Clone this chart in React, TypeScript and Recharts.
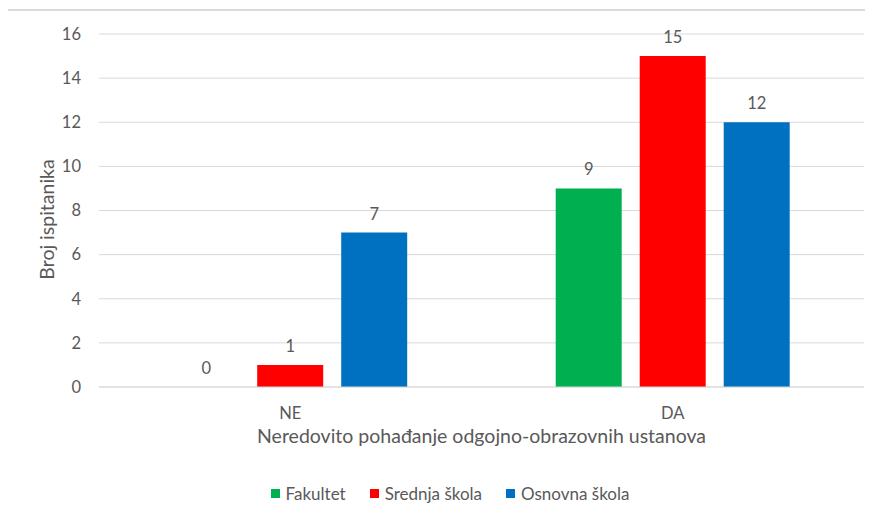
import { Bar, BarChart, CartesianGrid, LabelList, Legend, XAxis, YAxis } from 'recharts';

const categories = ['NE', 'DA'];
const fakultet = [0, 9];
const srednja = [1, 15];
const osnovna = [7, 12];
const yTicks = [0, 2, 4, 6, 8, 10, 12, 14, 16];

const series = [
  { key: 'fakultet', name: 'Fakultet', color: '#00B050' },
  { key: 'srednja', name: 'Srednja škola', color: '#FF0000' },
  { key: 'osnovna', name: 'Osnovna škola', color: '#0070C0' },
];

const data = categories.map((c, i) => ({
  name: c,
  fakultet: fakultet[i],
  srednja: srednja[i],
  osnovna: osnovna[i],
}));

const FONT = 'Lato, "Open Sans", sans-serif';
const TEXT = '#595959';

function LegendContent() {
  return (
    <div
      style={{
        display: 'flex',
        justifyContent: 'center',
        gap: 24,
        fontFamily: FONT,
        fontSize: 17,
        color: TEXT,
        height: 24,
        alignItems: 'center',
        paddingLeft: 36,
      }}
    >
      {series.map((s) => (
        <span key={s.key} style={{ display: 'inline-flex', alignItems: 'center' }}>
          <span style={{ width: 9, height: 9, background: s.color, marginRight: 6, display: 'inline-block' }} />
          {s.name}
        </span>
      ))}
    </div>
  );
}

function YTitle(props: any) {
  const { viewBox } = props;
  const cy = viewBox.y + viewBox.height / 2 + 9;
  return (
    <text
      x={46}
      y={cy}
      transform={`rotate(-90 46 ${cy})`}
      textAnchor="middle"
      dominantBaseline="central"
      fill={TEXT}
      fontSize={19.5}
      fontFamily={FONT}
    >
      Broj ispitanika
    </text>
  );
}

function BarValue(props: any) {
  const { x, y, width, value } = props;
  return (
    <text x={x + width / 2} y={y - 13} textAnchor="middle" fill={TEXT} fontSize={16.5} fontFamily={FONT}>
      {value}
    </text>
  );
}

export default function App() {
  return (
    <div style={{ position: 'relative', width: 873, height: 515, margin: -8, overflow: 'hidden', background: '#fff' }}>
      <div
        style={{
          position: 'absolute',
          left: 6,
          top: 9,
          width: 1000,
          height: 1000,
          border: '2px solid #d9d9d9',
          boxSizing: 'border-box',
        }}
      />
      <div style={{ position: 'absolute', left: 0, top: 0 }}>
        <BarChart
          width={873}
          height={515}
          data={data}
          margin={{ top: 34, right: 9, left: 0, bottom: 10 }}
          barCategoryGap="19.4%"
          barGap={18}
        >
          <CartesianGrid vertical={false} stroke="#d9d9d9" strokeWidth={1} />
          <XAxis
            dataKey="name"
            height={94}
            axisLine={{ stroke: '#d9d9d9' }}
            tickLine={false}
            tick={{ fontSize: 16.5, fill: TEXT, fontFamily: FONT }}
            tickMargin={14}
            label={{
              value: 'Neredovito pohađanje odgojno-obrazovnih ustanova',
              position: 'insideTop',
              offset: 42,
              fill: TEXT,
              fontSize: 19.5,
              fontFamily: FONT,
            }}
          />
          <YAxis
            width={99}
            domain={[0, 16]}
            ticks={yTicks}
            interval={0}
            axisLine={false}
            tickLine={false}
            tick={{ fontSize: 16.5, fill: TEXT, fontFamily: FONT }}
            tickMargin={12}
            label={<YTitle />}
          />
          <Legend verticalAlign="bottom" content={<LegendContent />} />
          {series.map((s) => (
            <Bar
              key={s.key}
              dataKey={s.key}
              name={s.name}
              fill={s.color}
              minPointSize={0.01}
              isAnimationActive={false}
            >
              <LabelList dataKey={s.key} content={<BarValue />} />
            </Bar>
          ))}
        </BarChart>
      </div>
    </div>
  );
}
